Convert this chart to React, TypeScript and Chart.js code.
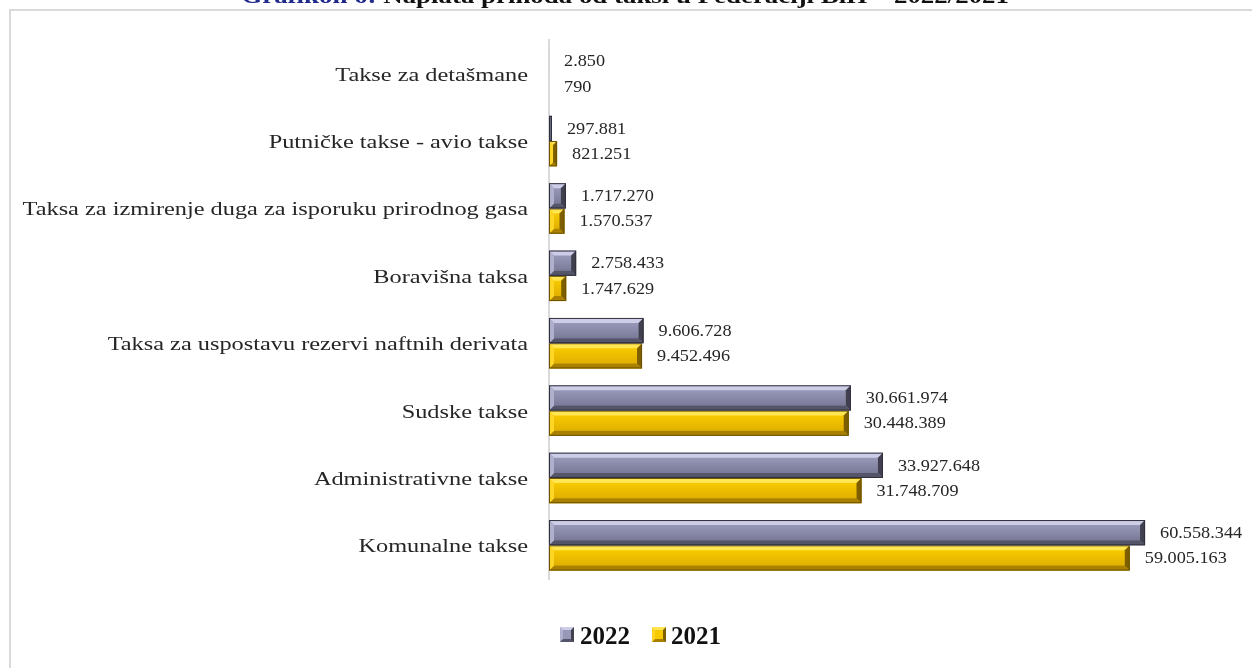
import React, { useEffect, useRef } from "react";
import { Chart, registerables } from "chart.js";

Chart.register(...registerables);

const categories: string[] = [
  "Takse za detašmane",
  "Putničke takse - avio takse",
  "Taksa za izmirenje duga za isporuku prirodnog gasa",
  "Boravišna taksa",
  "Taksa za uspostavu rezervi naftnih derivata",
  "Sudske takse",
  "Administrativne takse",
  "Komunalne takse",
];

const values2022: number[] = [2850, 297881, 1717270, 2758433, 9606728, 30661974, 33927648, 60558344];
const values2021: number[] = [790, 821251, 1570537, 1747629, 9452496, 30448389, 31748709, 59005163];

const seriesNames: string[] = ["2022", "2021"];

const palettes = [
  { face: "#9797b8", faceDark: "#7a7a98", top: "#cdcde8", left: "#b0b0cc", bottom: "#55556a", right: "#40404f", outline: "#2f2f3b" },
  { face: "#f7c900", faceDark: "#e0b000", top: "#ffe652", left: "#ffd626", bottom: "#a98000", right: "#7e5f00", outline: "#6b5100" },
];

const fmt = (v: number) => v.toString().replace(/\B(?=(\d{3})+(?!\d))/g, ".");

const bevelPlugin = {
  id: "bevel",
  afterDatasetDraw(chart: any, args: any) {
    const ctx = chart.ctx;
    const pal = palettes[args.index];
    const meta = args.meta;
    meta.data.forEach((el: any) => {
      const L = Math.min(el.base, el.x);
      const R = Math.max(el.base, el.x);
      const T = el.y - el.height / 2;
      const B = el.y + el.height / 2;
      const w = R - L;
      if (w < 0.5) return;
      const b = Math.min(5, w / 2, (B - T) / 2);
      const poly = (pts: number[][], c: any) => {
        ctx.beginPath();
        ctx.moveTo(pts[0][0], pts[0][1]);
        for (let i = 1; i < pts.length; i++) ctx.lineTo(pts[i][0], pts[i][1]);
        ctx.closePath();
        ctx.fillStyle = c;
        ctx.fill();
      };
      ctx.save();
      const g = ctx.createLinearGradient(0, T + b, 0, B - b);
      g.addColorStop(0, pal.face);
      g.addColorStop(1, pal.faceDark);
      poly([[L + b, T + b], [R - b, T + b], [R - b, B - b], [L + b, B - b]], g);
      poly([[L, T], [R, T], [R - b, T + b], [L + b, T + b]], pal.top);
      poly([[L, B], [R, B], [R - b, B - b], [L + b, B - b]], pal.bottom);
      poly([[L, T], [L + b, T + b], [L + b, B - b], [L, B]], pal.left);
      poly([[R, T], [R - b, T + b], [R - b, B - b], [R, B]], pal.right);
      ctx.strokeStyle = pal.outline;
      ctx.lineWidth = 1;
      ctx.strokeRect(L + 0.5, T + 0.5, Math.max(w - 1, 0.5), B - T - 1);
      ctx.restore();
    });
  },
};

const labelPlugin = {
  id: "labels",
  afterDraw(chart: any) {
    const ctx = chart.ctx;
    const yScale = chart.scales.y;
    ctx.save();
    ctx.fillStyle = "#262626";
    ctx.textBaseline = "middle";
    ctx.font = '19px "Liberation Serif"';
    ctx.textAlign = "right";
    categories.forEach((c, i) => {
      const py = yScale.getPixelForTick(i);
      ctx.save();
      ctx.translate(528, py + 2);
      ctx.scale(1.28, 1);
      ctx.fillText(c, 0, 0);
      ctx.restore();
    });
    ctx.font = '16px "Liberation Serif"';
    ctx.textAlign = "left";
    chart.data.datasets.forEach((ds: any, di: number) => {
      const meta = chart.getDatasetMeta(di);
      meta.data.forEach((el: any, i: number) => {
        ctx.save();
        ctx.translate(Math.max(el.x, el.base) + 15, el.y + 1);
        ctx.scale(1.14, 1);
        ctx.fillText(fmt(ds.data[i]), 0, 0);
        ctx.restore();
      });
    });
    ctx.restore();
  },
};

export default function App() {
  const ref = useRef<HTMLCanvasElement | null>(null);
  useEffect(() => {
    if (!ref.current) return;
    const chart = new Chart(ref.current, {
      type: "bar",
      data: {
        labels: categories,
        datasets: [
          { label: seriesNames[0], data: values2022, backgroundColor: palettes[0].face, borderWidth: 0 },
          { label: seriesNames[1], data: values2021, backgroundColor: palettes[1].face, borderWidth: 0 },
        ],
      },
      options: {
        indexAxis: "y",
        responsive: false,
        animation: false,
        layout: { padding: { top: 40, bottom: 89, right: 14, left: 0 } },
        datasets: { bar: { categoryPercentage: 0.75, barPercentage: 1 } },
        plugins: { legend: { display: false }, tooltip: { enabled: false }, title: { display: false } },
        scales: {
          x: { display: false, min: 0, max: 70000000 },
          y: {
            grid: { display: false },
            border: { display: true, color: "#d9d9d9", width: 2 },
            ticks: { display: false },
            afterFit: (s: any) => {
              s.width = 549;
            },
          },
        },
      } as any,
      plugins: [bevelPlugin, labelPlugin],
    });
    return () => chart.destroy();
  }, []);

  const marker = (i: number): React.CSSProperties => {
    const p = palettes[i];
    return {
      position: "fixed",
      width: 8,
      height: 9,
      background: p.face,
      borderStyle: "solid",
      borderWidth: 3,
      borderTopColor: p.top,
      borderLeftColor: p.left,
      borderBottomColor: p.bottom,
      borderRightColor: p.right,
      top: 627,
    };
  };
  const legendText: React.CSSProperties = {
    position: "fixed",
    top: 623,
    font: 'bold 25px "Liberation Serif"',
    lineHeight: "25px",
    color: "#111",
  };

  return (
    <div>
      <div
        style={{
          position: "fixed",
          left: 9,
          top: 9,
          width: 1400,
          height: 800,
          border: "2px solid #d9d9d9",
          boxSizing: "border-box",
        }}
      />
      <div
        style={{
          position: "fixed",
          left: 0,
          top: -14,
          width: 1252,
          textAlign: "center",
          font: 'bold 21px "Liberation Serif"',
          lineHeight: "21px",
          transform: "scaleX(1.28)",
          transformOrigin: "629px 0",
          color: "#111",
          whiteSpace: "nowrap",
        }}
      >
        <span style={{ color: "#1f2a8c" }}>Grafikon 6:</span> Naplata prihoda od taksi u Federaciji BiH – 2022/2021
      </div>
      <canvas
        ref={ref}
        width={1252}
        height={668}
        style={{ position: "fixed", left: 0, top: 0, width: 1252, height: 668 }}
      />
      <div style={{ ...marker(0), left: 560 }} />
      <div style={{ ...legendText, left: 580 }}>{seriesNames[0]}</div>
      <div style={{ ...marker(1), left: 652 }} />
      <div style={{ ...legendText, left: 671 }}>{seriesNames[1]}</div>
    </div>
  );
}
